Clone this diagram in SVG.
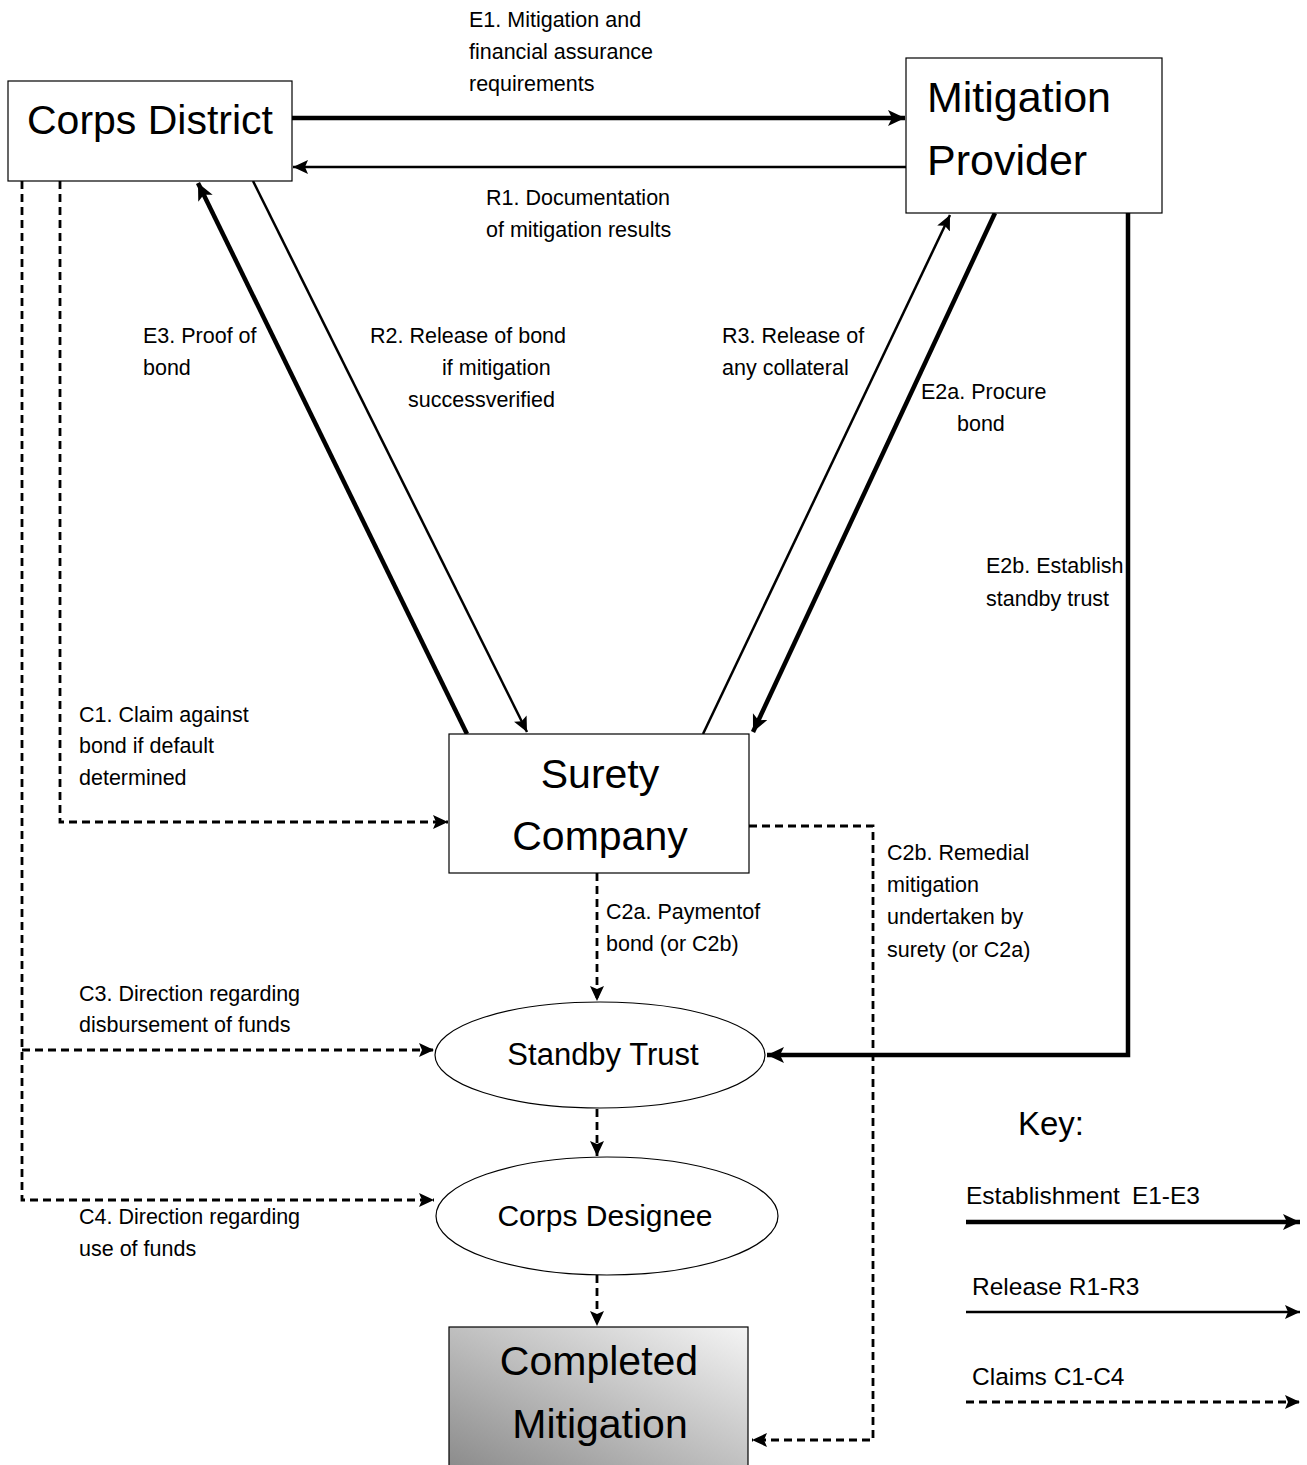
<svg xmlns="http://www.w3.org/2000/svg" width="1307" height="1465" viewBox="0 0 1307 1465">
<style>
text{font-family:"Liberation Sans",Arial,sans-serif;fill:#000}
.big{font-size:41px}
.mid{font-size:30px}
.lbl{font-size:21.5px}
.key{font-size:24.5px}
.box{fill:#fff;stroke:#000;stroke-width:1.2}
.e{stroke:#000;stroke-width:4.5;fill:none}
.r{stroke:#000;stroke-width:2.5;fill:none}
.c{stroke:#000;stroke-width:2.8;fill:none;stroke-dasharray:8 5}
</style>
<defs>
<marker id="ah" markerUnits="userSpaceOnUse" markerWidth="20" markerHeight="18" refX="17" refY="8" orient="auto">
<path d="M0,0 L17,8 L0,16 L4,8 Z" fill="#000"/>
</marker>
<marker id="ahs" markerUnits="userSpaceOnUse" markerWidth="18" markerHeight="16" refX="15" refY="7" orient="auto">
<path d="M0,0 L15,7 L0,14 L3,7 Z" fill="#000"/>
</marker>
<linearGradient id="g" x1="1" y1="0" x2="0" y2="1">
<stop offset="0" stop-color="#f4f4f4"/>
<stop offset="1" stop-color="#8a8a8a"/>
</linearGradient>
</defs>

<g id="connectors">
<line class="e" x1="292" y1="118" x2="905" y2="118" marker-end="url(#ah)"/>
<line class="r" x1="906" y1="167" x2="293" y2="167" marker-end="url(#ahs)"/>
<line class="e" x1="467" y1="734" x2="198" y2="183" marker-end="url(#ah)"/>
<line class="r" x1="253" y1="181" x2="527" y2="732" marker-end="url(#ahs)"/>
<line class="r" x1="703" y1="734" x2="950" y2="215" marker-end="url(#ahs)"/>
<line class="e" x1="995" y1="213" x2="753" y2="732" marker-end="url(#ah)"/>
<polyline class="e" points="1128,213 1128,1055 767,1055" marker-end="url(#ah)"/>
<polyline class="c" points="60,181 60,822 448,822" marker-end="url(#ahs)"/>
<polyline class="c" points="22,181 22,1200 434,1200" marker-end="url(#ahs)"/>
<line class="c" x1="22" y1="1050" x2="434" y2="1050" marker-end="url(#ahs)"/>
<line class="c" x1="597" y1="873" x2="597" y2="1001" marker-end="url(#ahs)"/>
<polyline class="c" points="749,826 873,826 873,1440 752,1440" marker-end="url(#ahs)"/>
<line class="c" x1="597" y1="1109" x2="597" y2="1156" marker-end="url(#ahs)"/>
<line class="c" x1="597" y1="1275" x2="597" y2="1326" marker-end="url(#ahs)"/>
</g>

<g id="corps-district">
<rect class="box" x="8" y="81" width="284" height="100"/>
<text class="big" x="150" y="134" text-anchor="middle">Corps District</text>
</g>
<g id="mitigation-provider">
<rect class="box" x="906" y="58" width="256" height="155"/>
<text class="big" x="927" y="112" style="font-size:43px">Mitigation</text>
<text class="big" x="927" y="175" style="font-size:43px">Provider</text>
</g>
<g id="surety-company">
<rect class="box" x="449" y="734" width="300" height="139"/>
<text class="big" x="600" y="788" text-anchor="middle">Surety</text>
<text class="big" x="600" y="850" text-anchor="middle">Company</text>
</g>
<g id="standby-trust">
<ellipse class="box" cx="600" cy="1055" rx="165" ry="53"/>
<text class="mid" x="603" y="1065" text-anchor="middle" style="font-size:31px">Standby Trust</text>
</g>
<g id="corps-designee">
<ellipse class="box" cx="607" cy="1216" rx="171" ry="59"/>
<text class="mid" x="605" y="1226" text-anchor="middle">Corps Designee</text>
</g>
<g id="completed-mitigation">
<rect x="449" y="1327" width="299" height="145" fill="url(#g)" stroke="#000" stroke-width="1.2"/>
<text class="big" x="599" y="1375" text-anchor="middle">Completed</text>
<text class="big" x="600" y="1438" text-anchor="middle">Mitigation</text>
</g>

<g id="labels">
<text class="lbl" x="469" y="27">E1. Mitigation and</text>
<text class="lbl" x="469" y="59">financial assurance</text>
<text class="lbl" x="469" y="91">requirements</text>
<text class="lbl" x="486" y="205">R1. Documentation</text>
<text class="lbl" x="486" y="237">of mitigation results</text>
<text class="lbl" x="143" y="343">E3. Proof of</text>
<text class="lbl" x="143" y="375">bond</text>
<text class="lbl" x="370" y="343">R2. Release of bond</text>
<text class="lbl" x="442" y="375">if mitigation</text>
<text class="lbl" x="408" y="407">successverified</text>
<text class="lbl" x="722" y="343">R3. Release of</text>
<text class="lbl" x="722" y="375">any collateral</text>
<text class="lbl" x="921" y="399">E2a. Procure</text>
<text class="lbl" x="957" y="431">bond</text>
<text class="lbl" x="986" y="573">E2b. Establish</text>
<text class="lbl" x="986" y="606">standby trust</text>
<text class="lbl" x="79" y="722">C1. Claim against</text>
<text class="lbl" x="79" y="753">bond if default</text>
<text class="lbl" x="79" y="785">determined</text>
<text class="lbl" x="606" y="919">C2a. Paymentof</text>
<text class="lbl" x="606" y="951">bond (or C2b)</text>
<text class="lbl" x="887" y="860">C2b. Remedial</text>
<text class="lbl" x="887" y="892">mitigation</text>
<text class="lbl" x="887" y="924">undertaken by</text>
<text class="lbl" x="887" y="957">surety (or C2a)</text>
<text class="lbl" x="79" y="1001">C3. Direction regarding</text>
<text class="lbl" x="79" y="1032">disbursement of funds</text>
<text class="lbl" x="79" y="1224">C4. Direction regarding</text>
<text class="lbl" x="79" y="1256">use of funds</text>
</g>

<g id="key">
<text x="1018" y="1135" font-size="33">Key:</text>
<text class="key" x="966" y="1204">Establishment<tspan dx="12">E1-E3</tspan></text>
<line class="e" x1="966" y1="1222" x2="1300" y2="1222" marker-end="url(#ah)"/>
<text class="key" x="972" y="1295">Release R1-R3</text>
<line class="r" x1="966" y1="1312" x2="1300" y2="1312" marker-end="url(#ahs)"/>
<text class="key" x="972" y="1385">Claims C1-C4</text>
<line class="c" x1="966" y1="1402" x2="1300" y2="1402" marker-end="url(#ahs)"/>
</g>
</svg>
